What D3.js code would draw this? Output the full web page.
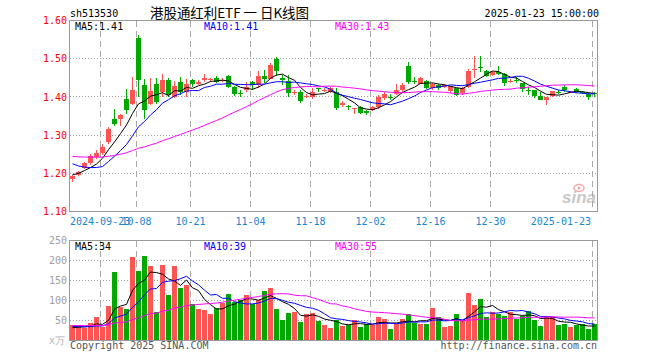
<!DOCTYPE html>
<html><head><meta charset="utf-8">
<script src="https://cdn.jsdelivr.net/npm/d3@7"></script>
<style>body{margin:0;background:#fff}svg{display:block}</style>
</head><body><svg id="c" width="660" height="360"></svg>
<script>
const dates = ["2024-09-12","2024-09-13","2024-09-18","2024-09-19","2024-09-20","2024-09-23","2024-09-24","2024-09-25","2024-09-26","2024-09-27",
"2024-09-30","2024-10-08","2024-10-09","2024-10-10","2024-10-11","2024-10-14","2024-10-15","2024-10-16","2024-10-17","2024-10-18",
"2024-10-21","2024-10-22","2024-10-23","2024-10-24","2024-10-25","2024-10-28","2024-10-29","2024-10-30","2024-10-31","2024-11-01",
"2024-11-04","2024-11-05","2024-11-06","2024-11-07","2024-11-08","2024-11-11","2024-11-12","2024-11-13","2024-11-14","2024-11-15",
"2024-11-18","2024-11-19","2024-11-20","2024-11-21","2024-11-22","2024-11-25","2024-11-26","2024-11-27","2024-11-28","2024-11-29",
"2024-12-02","2024-12-03","2024-12-04","2024-12-05","2024-12-06","2024-12-09","2024-12-10","2024-12-11","2024-12-12","2024-12-13",
"2024-12-16","2024-12-17","2024-12-18","2024-12-19","2024-12-20","2024-12-23","2024-12-24","2024-12-25","2024-12-26","2024-12-27",
"2024-12-30","2024-12-31","2025-01-02","2025-01-03","2025-01-06","2025-01-07","2025-01-08","2025-01-09","2025-01-10","2025-01-13",
"2025-01-14","2025-01-15","2025-01-16","2025-01-17","2025-01-20","2025-01-21","2025-01-22","2025-01-23"];
const opens = [1.185,1.196,1.215,1.228,1.242,1.253,1.281,1.343,1.341,1.395,
1.381,1.555,1.432,1.382,1.435,1.414,1.443,1.401,1.439,1.412,
1.443,1.434,1.443,1.443,1.450,1.441,1.454,1.426,1.409,1.417,
1.439,1.430,1.454,1.447,1.499,1.449,1.442,1.410,1.414,1.399,
1.401,1.422,1.416,1.414,1.414,1.380,1.376,1.369,1.374,1.362,
1.365,1.373,1.398,1.401,1.407,1.417,1.482,1.442,1.435,1.442,
1.422,1.431,1.427,1.415,1.422,1.410,1.425,1.472,1.479,1.469,
1.457,1.466,1.459,1.440,1.443,1.436,1.419,1.417,1.403,1.391,
1.403,1.414,1.427,1.412,1.421,1.413,1.408,1.410];
const highs = [1.196,1.207,1.230,1.251,1.262,1.276,1.320,1.369,1.354,1.421,
1.453,1.561,1.447,1.450,1.449,1.461,1.449,1.441,1.452,1.447,
1.448,1.443,1.461,1.450,1.456,1.449,1.457,1.428,1.419,1.440,
1.441,1.467,1.470,1.488,1.504,1.458,1.458,1.417,1.419,1.408,
1.424,1.424,1.423,1.427,1.423,1.389,1.380,1.371,1.377,1.366,
1.376,1.405,1.412,1.408,1.435,1.436,1.491,1.452,1.453,1.444,
1.436,1.433,1.434,1.429,1.424,1.425,1.472,1.508,1.508,1.470,
1.468,1.482,1.462,1.446,1.452,1.437,1.425,1.418,1.413,1.400,
1.416,1.418,1.430,1.416,1.424,1.415,1.409,1.413];
const lows = [1.177,1.194,1.212,1.222,1.238,1.249,1.277,1.323,1.323,1.356,
1.380,1.401,1.342,1.379,1.382,1.401,1.401,1.397,1.405,1.401,
1.427,1.432,1.438,1.438,1.436,1.438,1.422,1.402,1.401,1.412,
1.419,1.424,1.437,1.446,1.456,1.431,1.400,1.404,1.383,1.396,
1.394,1.412,1.412,1.411,1.366,1.374,1.366,1.355,1.355,1.353,
1.362,1.369,1.392,1.393,1.405,1.414,1.433,1.433,1.433,1.420,
1.418,1.418,1.423,1.410,1.402,1.406,1.424,1.450,1.465,1.451,
1.456,1.457,1.428,1.436,1.436,1.412,1.405,1.396,1.391,1.379,
1.399,1.408,1.414,1.410,1.410,1.408,1.393,1.400];
const closes = [1.194,1.204,1.227,1.244,1.252,1.269,1.317,1.328,1.353,1.366,
1.419,1.443,1.365,1.416,1.386,1.445,1.405,1.429,1.412,1.433,
1.433,1.439,1.450,1.447,1.440,1.444,1.426,1.407,1.408,1.426,
1.432,1.456,1.446,1.483,1.469,1.444,1.410,1.412,1.389,1.402,
1.414,1.420,1.418,1.423,1.372,1.383,1.373,1.371,1.357,1.357,
1.373,1.401,1.408,1.399,1.419,1.431,1.438,1.440,1.449,1.422,
1.435,1.423,1.430,1.428,1.405,1.422,1.469,1.474,1.476,1.454,
1.466,1.461,1.436,1.442,1.441,1.421,1.417,1.403,1.393,1.400,
1.415,1.412,1.419,1.414,1.412,1.411,1.400,1.408];
const volumes = [38,37,31,43,58,33,86,171,83,78,
208,173,211,186,71,188,113,186,131,138,
91,78,76,66,82,94,116,97,101,113,
92,101,124,131,78,51,68,72,47,66,
68,49,38,32,51,37,38,51,34,42,
38,58,53,28,42,53,66,44,42,42,
82,58,33,37,66,49,118,88,103,58,
71,66,61,71,54,61,73,51,36,58,
58,38,41,33,38,41,28,42];
// closes / volumes before the first visible day (only feed the moving averages)
const priorCloses = [1.240,1.245,1.250,1.255,1.258,1.262,1.260,1.255,1.250,1.252,1.256,1.260,1.258,1.254,1.250,1.248,1.252,1.255,1.258,1.262,
1.262,1.258,1.255,1.250,1.245,1.184,1.191,1.205,1.206];
const priorVolumes = [36,40,42,38,35,37,41,39,36,40,38,42,37,39,41,36,38,40,39,38,40,36,38,40,36,30,28,32,32];
const tickDates = ["2024-09-23","2024-10-08","2024-10-21","2024-11-04","2024-11-18","2024-12-02","2024-12-16","2024-12-30","2025-01-23"];
const tickLabels = ["2024-09-23","10-08","10-21","11-04","11-18","12-02","12-16","12-30","2025-01-23"];
const priceTicks = [1.10,1.20,1.30,1.40,1.50,1.60];
const volTicks = [50,100,150,200,250];
const priceLegend = ["MA5:1.41","MA10:1.41","MA30:1.43"];
const volLegend = ["MA5:34","MA10:39","MA30:55"];
const maPeriods = [5,10,30];
const maColors = ["#000000","#0000ff","#ff00ff"];

const UP = "#ff5454", DOWN = "#00a800";
const MONO = "'DejaVu Sans Mono', monospace";
const svg = d3.select("#c");
const X0 = 70, X1 = 598;
const x = d3.scaleBand().domain(dates).range([X0, X1]);
const yP = d3.scaleLinear().domain([1.10, 1.60]).range([211.5, 20.5]);
const yV = d3.scaleLinear().domain([0, 250]).range([340.5, 240.5]);
const cx = d => x(d) + 2.5;

function ma(vals, prior, n) {
  const all = prior.concat(vals), off = prior.length;
  return vals.map((v, i) => d3.mean(all.slice(off + i - n + 1, off + i + 1)));
}

// header
svg.append("text").attr("x", 70).attr("y", 17).attr("font-family", MONO).attr("font-size", 10).text("sh513530");
svg.append("text").attr("x", 150).attr("y", 17.5).attr("textLength", 159).attr("lengthAdjust", "spacing")
  .attr("font-family", "'Noto Sans CJK SC', sans-serif").attr("font-size", 13.5).text("港股通红利ETF 一 日K线图");
svg.append("text").attr("x", 599).attr("y", 16.5).attr("text-anchor", "end").attr("font-family", MONO).attr("font-size", 10).text("2025-01-23 15:00:00");

// watermark
const wm = svg.append("g").attr("fill", "#c8c8c8");
wm.append("text").attr("x", 596).attr("y", 203).attr("text-anchor", "end").attr("font-family", "'Liberation Sans', sans-serif")
  .attr("font-size", 17).attr("font-weight", "bold").attr("font-style", "italic").text("sina");
wm.append("ellipse").attr("cx", 579).attr("cy", 188).attr("rx", 5).attr("ry", 3.5).attr("fill", "none").attr("stroke", "#f0a8a8").attr("stroke-width", 1.5);
wm.append("circle").attr("cx", 579).attr("cy", 188).attr("r", 1.5).attr("fill", "#f0a8a8");

// grids
function panelGrid(yScale, vals, top, bottom) {
  const g = svg.append("g");
  g.selectAll("line.h").data(vals).join("line")
    .attr("x1", X0).attr("x2", X1 - 0.5)
    .attr("y1", d => Math.floor(yScale(d)) + 0.5).attr("y2", d => Math.floor(yScale(d)) + 0.5)
    .attr("stroke", "#a0a0a0").attr("stroke-dasharray", "1,2");
  g.selectAll("line.v").data(tickDates).join("line")
    .attr("x1", d => x(d) + 0.5).attr("x2", d => x(d) + 0.5)
    .attr("y1", top).attr("y2", bottom)
    .attr("stroke", "#a8a8a8").attr("stroke-dasharray", "6,4");
}
panelGrid(yP, [1.2, 1.3, 1.4, 1.5], 21, 211);
panelGrid(yV, [50, 100, 150, 200], 241, 340);

// candles
const cg = svg.append("g");
const cand = dates.map((d, i) => ({d, o: opens[i], h: highs[i], l: lows[i], c: closes[i]}));
cg.selectAll("line").data(cand).join("line")
  .attr("x1", d => cx(d.d)).attr("x2", d => cx(d.d))
  .attr("y1", d => Math.round(yP(d.h))).attr("y2", d => Math.round(yP(d.l)))
  .attr("stroke", d => d.c >= d.o ? UP : DOWN);
cg.selectAll("rect").data(cand).join("rect")
  .attr("x", d => x(d.d)).attr("width", 5)
  .attr("y", d => Math.round(yP(Math.max(d.o, d.c))))
  .attr("height", d => Math.max(1, Math.round(yP(Math.min(d.o, d.c))) - Math.round(yP(Math.max(d.o, d.c)))))
  .attr("fill", d => d.c >= d.o ? UP : DOWN);

// volume bars
svg.append("g").selectAll("rect").data(dates).join("rect")
  .attr("x", d => x(d)).attr("width", 5)
  .attr("y", (d, i) => Math.round(yV(volumes[i])))
  .attr("height", (d, i) => 340 - Math.round(yV(volumes[i])))
  .attr("fill", (d, i) => closes[i] >= opens[i] ? UP : DOWN);

// moving averages
maPeriods.forEach((n, k) => {
  const mp = ma(closes, priorCloses, n);
  const mv = ma(volumes, priorVolumes, n);
  svg.append("path").datum(mp).attr("fill", "none").attr("stroke", maColors[k]).attr("stroke-width", 1)
    .attr("d", d3.line().x((v, i) => cx(dates[i])).y(v => yP(v)));
  svg.append("path").datum(mv).attr("fill", "none").attr("stroke", maColors[k]).attr("stroke-width", 1)
    .attr("d", d3.line().x((v, i) => cx(dates[i])).y(v => yV(v)));
});

// frames
svg.append("rect").attr("x", 69.5).attr("y", 20.5).attr("width", 528).attr("height", 191).attr("fill", "none").attr("stroke", "#9a9a9a");
svg.append("rect").attr("x", 69.5).attr("y", 240.5).attr("width", 528).attr("height", 100).attr("fill", "none").attr("stroke", "#9a9a9a");

// axes
const pa = svg.append("g").attr("transform", "translate(70,0)")
  .call(d3.axisLeft(yP).tickValues(priceTicks).tickFormat(d3.format(".2f")).tickSize(0).tickPadding(3));
pa.select(".domain").remove();
pa.selectAll("text").attr("fill", "#ff0000").attr("font-family", MONO).attr("font-size", 10);
const va = svg.append("g").attr("transform", "translate(70,0)")
  .call(d3.axisLeft(yV).tickValues(volTicks).tickSize(0).tickPadding(3));
va.select(".domain").remove();
va.selectAll("text").attr("fill", "#a0a0a0").attr("font-family", MONO).attr("font-size", 10);
svg.append("text").attr("x", 65).attr("y", 344).attr("text-anchor", "end").attr("fill", "#b4b4b4")
  .attr("font-family", MONO).attr("font-size", 10).text("x万");

// date labels (the first two overlap in the reference too)
svg.append("g").selectAll("text").data(tickDates).join("text")
  .attr("x", (d, i) => i === 0 ? X0 : (i === tickDates.length - 1 ? 591 : x(d) + 0.5))
  .attr("y", 225)
  .attr("text-anchor", (d, i) => i === 0 ? "start" : (i === tickDates.length - 1 ? "end" : "middle"))
  .attr("fill", "#1a86d0").attr("font-family", MONO).attr("font-size", 10)
  .text((d, i) => tickLabels[i]);

// legends
const legX = [75, 204, 335];
svg.append("g").selectAll("text").data(priceLegend).join("text")
  .attr("x", (d, i) => legX[i]).attr("y", 30).attr("fill", (d, i) => maColors[i])
  .attr("font-family", MONO).attr("font-size", 10).text(d => d);
svg.append("g").selectAll("text").data(volLegend).join("text")
  .attr("x", (d, i) => legX[i]).attr("y", 249.5).attr("fill", (d, i) => maColors[i])
  .attr("font-family", MONO).attr("font-size", 10).text(d => d);

// footer
svg.append("text").attr("x", 70).attr("y", 349).attr("fill", "#555").attr("font-family", MONO).attr("font-size", 10).text("Copyright 2025 SINA.COM");
svg.append("text").attr("x", 597).attr("y", 349).attr("text-anchor", "end").attr("fill", "#555").attr("font-family", MONO).attr("font-size", 10).text("http://finance.sina.com.cn");
</script></body></html>
